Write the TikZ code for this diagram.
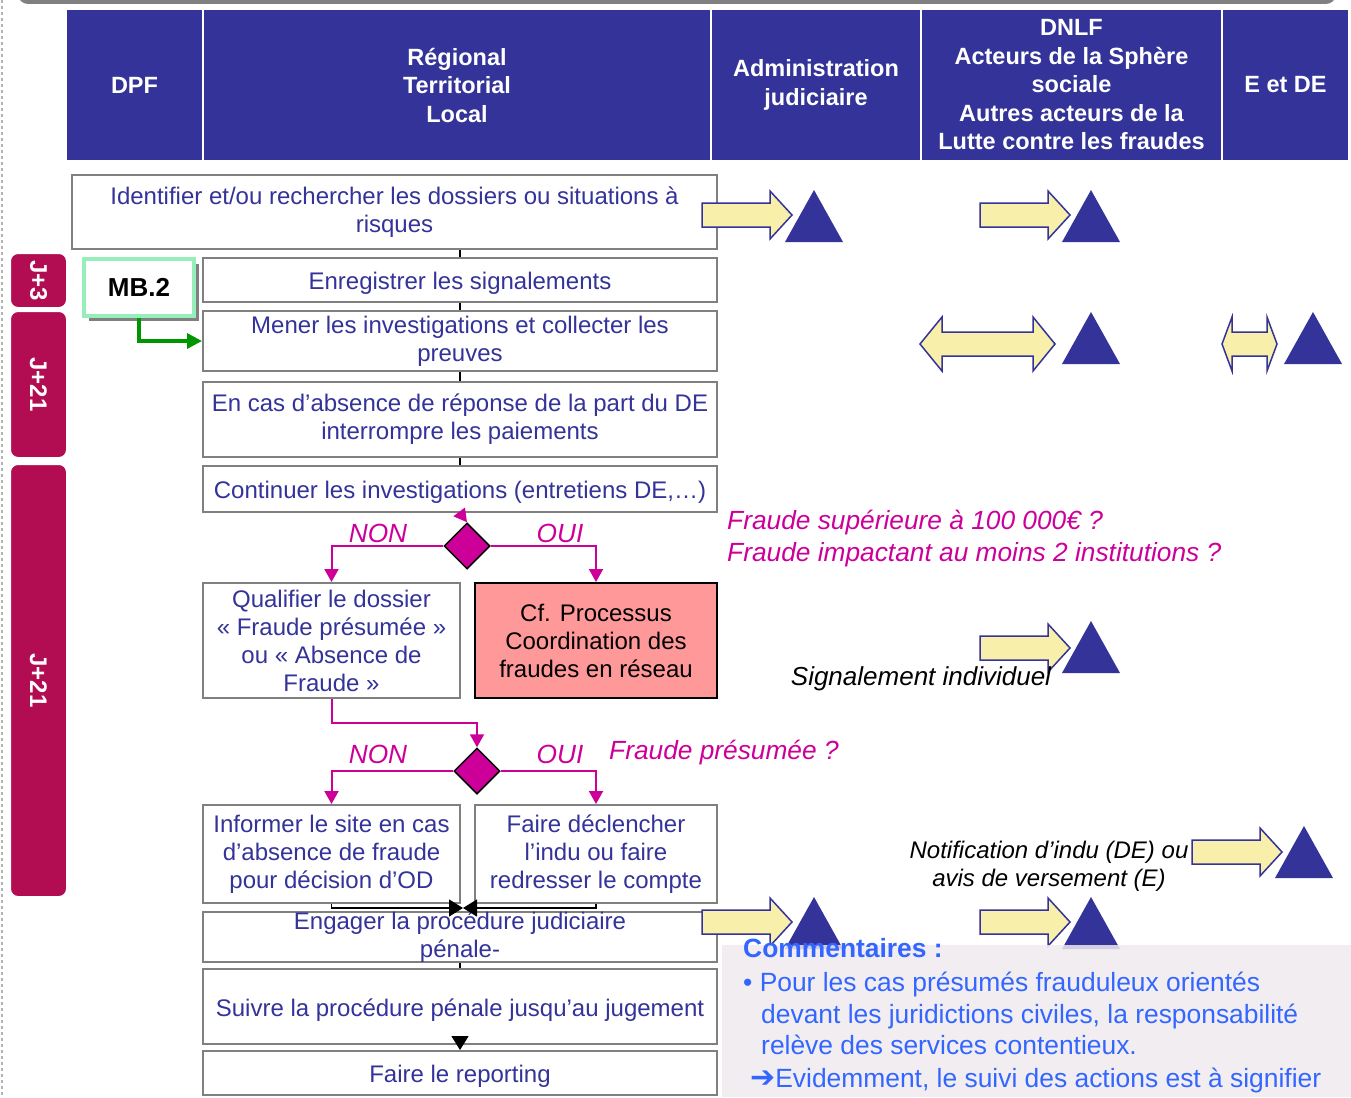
\documentclass[tikz,border=0pt]{standalone}
\usepackage{fontspec}
\setmainfont{Liberation Sans}
\newfontfamily\symbfont{DejaVu Sans}
\usetikzlibrary{calc,shapes.geometric,arrows.meta,shadows}

\definecolor{headblue}{RGB}{51,51,153}
\definecolor{decmagenta}{RGB}{204,0,153}
\definecolor{jourred}{RGB}{178,12,82}
\definecolor{procpink}{RGB}{255,153,153}
\definecolor{arrowyellow}{RGB}{248,240,170}
\definecolor{commentbg}{RGB}{238,234,238}
\definecolor{commentblue}{RGB}{51,102,255}
\definecolor{mbgreen}{RGB}{150,238,185}
\definecolor{linkgreen}{RGB}{0,150,0}
\definecolor{boxgray}{RGB}{128,128,128}

\tikzset{
  headcell/.style={fill=headblue, text=white, align=center, inner sep=0,
    minimum height=150, font=\fontsize{23.5}{28.5}\selectfont\bfseries},
  taskbox/.style={draw=boxgray, line width=2, fill=white, text=headblue,
    align=center, inner sep=0, font=\fontsize{24}{28}\selectfont,
    execute at begin node={\rule{0pt}{24pt}}},
  procbox/.style={taskbox, draw=black, fill=procpink, text=black},
  jourbar/.style={fill=jourred, draw=white, line width=2, rounded corners=8,
    text=white, minimum width=57, inner sep=0, font=\fontsize{24}{28}\selectfont\bfseries},
  mbbox/.style={draw=mbgreen, line width=4, fill=white, minimum width=110,
    minimum height=57, font=\fontsize{26}{30}\selectfont\bfseries,
    drop shadow={shadow xshift=5pt, shadow yshift=-5pt, fill=boxgray, opacity=1}},
  decision/.style={diamond, fill=decmagenta, draw=black, line width=1.5,
    minimum width=46, minimum height=46, inner sep=0},
  decnote/.style={text=decmagenta, font=\fontsize{26.3}{32}\selectfont\itshape},
  italnote/.style={text=black, align=center, font=\fontsize{24}{28}\selectfont\itshape},
  commentline/.style={text=commentblue, anchor=base west, inner sep=0,
    font=\fontsize{26.4}{32}\selectfont},
  flowlink/.style={draw=black, line width=1.5},
  flowarrow/.style={flowlink, -{Triangle[width=17pt,length=14pt]}},
  declink/.style={draw=decmagenta, line width=2, -{Triangle[width=14pt,length=13pt]}},
  greenlink/.style={draw=linkgreen, line width=3.5, -{Triangle[width=15pt,length=15pt]}},
  yelarrow/.style={draw=headblue, line width=1.5, fill=arrowyellow, line join=miter},
  pics/fleche/.style={code={
    \draw[yelarrow] (0,-12) -- (68,-12) -- (68,-24) -- (90,0) -- (68,24) -- (68,12) -- (0,12) -- cycle;
  }},
  pics/dfleche/.style 2 args={code={
    \draw[yelarrow] (0,0) -- (#2,-27) -- (#2,-12) -- (#1-#2,-12) -- (#1-#2,-27) -- (#1,0)
      -- (#1-#2,27) -- (#1-#2,12) -- (#2,12) -- (#2,27) -- cycle;
  }},
  pics/acteur/.style={code={
    \fill[headblue] (-29,26) -- (0,-26) -- (29,26) -- cycle;
  }},
}

\begin{document}
\begin{tikzpicture}[x=1pt, y=-1pt]
            \useasboundingbox (0,0) rectangle (1351,1097);
            \fill[boxgray, rounded corners=10] (18,-30) rectangle (1336,4);
            \draw[boxgray!60, dashed, line width=1.5] (2,0) -- (2,1097);

            \node[headcell, minimum width=135] (hdpf) at (134.5,85) {DPF};
            \node[headcell, minimum width=506] (hreg) at (457,85) {Régional\\Territorial\\Local};
            \node[headcell, minimum width=208] (hadm) at (816,85) {Administration\\judiciaire};
            \node[headcell, minimum width=299] (hdnlf) at (1071.5,85) {DNLF\\Acteurs de la Sphère\\sociale\\Autres acteurs de la\\Lutte contre les fraudes};
            \node[headcell, minimum width=125] (hede) at (1285.5,85) {E et DE};

            \node[jourbar, minimum height=55] (j3) at (38.5,280.5) {\rotatebox{-90}{J+3}};
            \node[jourbar, minimum height=147] (j21a) at (38.5,384.5) {\rotatebox{-90}{J+21}};
            \node[jourbar, minimum height=433] (j21b) at (38.5,680.5) {\rotatebox{-90}{J+21}};

            \node[mbbox] (mb) at (139,287.5) {MB.2};

            \node[taskbox, minimum width=645, minimum height=74] (ident) at (394.5,212) {Identifier et/ou rechercher les dossiers ou situations à\\risques};
            \node[taskbox, minimum width=514, minimum height=44] (enreg) at (460,280) {Enregistrer les signalements};
            \node[taskbox, minimum width=514, minimum height=60] (mener) at (460,341) {Mener les investigations et collecter les\\preuves};
            \node[taskbox, minimum width=514, minimum height=75] (encas) at (460,419.5) {En cas d’absence de réponse de la part du DE\\interrompre les paiements};
            \node[taskbox, minimum width=514, minimum height=46] (cont) at (460,489) {Continuer les investigations (entretiens DE,…)};
            \node[taskbox, minimum width=257, minimum height=115] (qual) at (331.5,640.5) {Qualifier le dossier\\« Fraude présumée »\\ou « Absence de\\Fraude »};
            \node[procbox, minimum width=242, minimum height=115] (cfp) at (596,640.5) {Cf. Processus\\Coordination des\\fraudes en réseau};
            \node[taskbox, minimum width=257, minimum height=98] (inform) at (331.5,854) {Informer le site en cas\\d’absence de fraude\\pour décision d’OD};
            \node[taskbox, minimum width=242, minimum height=98] (faire) at (596,854) {Faire déclencher\\l’indu ou faire\\redresser le compte};
            \node[taskbox, minimum width=514, minimum height=50, execute at begin node={}] (engage) at (460,937) {Engager la procédure judiciaire\\pénale-};
            \node[taskbox, minimum width=514, minimum height=75] (suivre) at (460,1006.5) {Suivre la procédure pénale jusqu’au jugement};
            \node[taskbox, minimum width=514, minimum height=44] (report) at (460,1073) {Faire le reporting};

            \node[decision] (dec1) at (467,546) {};
            \node[decision] (dec2) at (477,771) {};

            \draw[flowlink] (ident.south -| enreg.north) -- (enreg.north);
            \draw[flowlink] (enreg.south) -- (mener.north);
            \draw[flowlink] (mener.south) -- (encas.north);
            \draw[flowlink] (encas.south) -- (cont.north);
            \draw[greenlink] (mb.south) |- (mener.west);
            \draw[declink] (cont.south) -- (dec1.north);
            \draw[declink] (dec1.west) -| (qual.north);
            \draw[declink] (dec1.east) -| (cfp.north);
            \draw[declink] (qual.south) -- ++(0,24) -| (dec2.north);
            \draw[declink] (dec2.west) -| (inform.north);
            \draw[declink] (dec2.east) -| (faire.north);
            \coordinate (join) at (463,908);
            \draw[flowarrow] (inform.south) |- (join);
            \draw[flowarrow] (faire.south) |- (join);
            \draw[flowlink] (engage.south) -- (suivre.north);
            \draw[flowarrow] (suivre.south) -- (report.north);

            \node[decnote] (non1) at (378,533) {NON};
            \node[decnote] (oui1) at (560,533) {OUI};
            \node[decnote] (non2) at (378,754) {NON};
            \node[decnote] (oui2) at (560,754) {OUI};
            \node[decnote, anchor=west, inner sep=0] (q1) at (727,523) {Fraude supérieure à 100 000€ ?};
            \node[decnote, anchor=west, inner sep=0] (q2) at (727,555) {Fraude impactant au moins 2 institutions ?};
            \node[decnote, anchor=west, inner sep=0] (q3) at (609,753) {Fraude présumée ?};

            \pic at (702,215) {fleche};
            \pic at (814,216) {acteur};
            \pic at (980,215) {fleche};
            \pic at (1091,216) {acteur};
            \pic at (920,344) {dfleche={135}{22}};
            \pic at (1091,338) {acteur};
            \pic at (1222,344) {dfleche={55}{10}};
            \pic at (1313,338) {acteur};
            \pic at (980,648) {fleche};
            \pic at (1091,647) {acteur};
            \pic at (1192,852) {fleche};
            \pic at (1304,852) {acteur};
            \pic at (702,922) {fleche};
            \pic at (814,923) {acteur};
            \pic at (980,922) {fleche};
            \pic at (1091,923) {acteur};

            \node[italnote, font=\fontsize{26}{30}\selectfont\itshape] (signal) at (921,679) {Signalement individuel};
            \node[italnote] (notif) at (1049,866) {Notification d’indu (DE) ou\\avis de versement (E)};

            \fill[commentbg, fill opacity=0.85] (722,945) rectangle (1351,1097);
            \node[commentline, font=\fontsize{26.4}{32}\selectfont\bfseries] (ctitle) at (743,957) {Commentaires :};
            \node[commentline] (c1) at (743,991) {• Pour les cas présumés frauduleux orientés};
            \node[commentline] (c2) at (761,1023) {devant les juridictions civiles, la responsabilité};
            \node[commentline] (c3) at (761,1054) {relève des services contentieux.};
            \node[commentline] (c4) at (750,1087) {{\symbfont\fontsize{30}{32}\selectfont ➔}Evidemment, le suivi des actions est à signifier};
        \end{tikzpicture}
\end{document}
